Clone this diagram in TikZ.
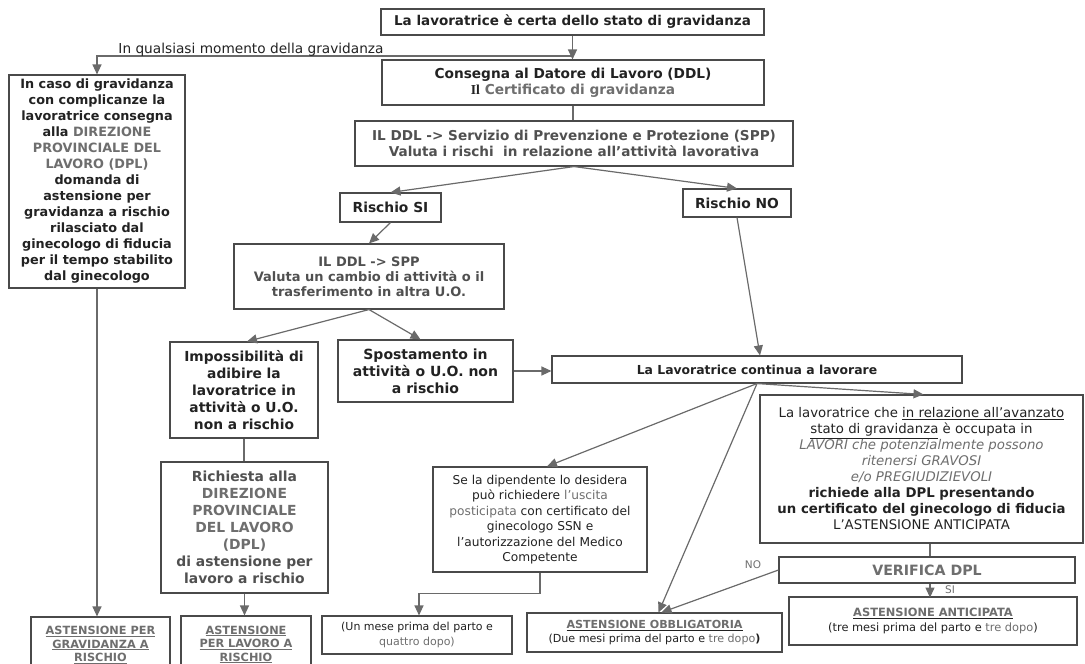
\documentclass[tikz,border=0pt]{standalone}
\usepackage{fontspec}
\setmainfont{DejaVu Sans}
\newfontfamily\serifb{Liberation Serif}
\usetikzlibrary{arrows.meta,calc}
\definecolor{txt}{HTML}{222222}
\definecolor{gt}{HTML}{6E6E6E}
\definecolor{mt}{HTML}{505050}
\definecolor{ln}{HTML}{6A6A6A}
\definecolor{bd}{HTML}{4A4A4A}
\newcommand{\fs}[2]{\fontsize{#1}{#2}\selectfont}
\newcommand{\gy}[1]{\textcolor{gt}{#1}}
\begin{document}
\begin{tikzpicture}[x=1pt,y=-1pt,
  box/.style={draw=bd, line width=1.1pt, fill=white, align=center, inner sep=0pt, text=txt},
  conn/.style={draw=ln, line width=1.2pt},
  arr/.style={conn, -{Triangle[length=10pt,width=9pt]}},
  lbl/.style={inner sep=0pt, text=txt}
]
\useasboundingbox (0,0) rectangle (1085,664);
\clip (0,0) rectangle (1085,664);

% boxes
\node[box, minimum width=383pt, minimum height=26pt, font=\fs{13.5}{16}\bfseries] (top) at (572.5,22)
  {La lavoratrice è certa dello stato di gravidanza};
\node[box, minimum width=382pt, minimum height=45pt, font=\fs{13.7}{16}\bfseries] (cons) at (573,82.5)
  {Consegna al Datore di Lavoro (DDL)\\ {\serifb Il} \gy{Certificato di gravidanza}};
\node[box, minimum width=438pt, minimum height=45pt, font=\fs{13.6}{15.5}\bfseries, text=mt] (val) at (574,143.5)
  {IL DDL -> Servizio di Prevenzione e Protezione (SPP)\\ Valuta i rischi~ in relazione all’attività lavorativa};
\node[box, minimum width=176pt, minimum height=213pt, font=\fs{12.8}{16}\bfseries] (left) at (97,181.5)
  {In caso di gravidanza\\ con complicanze la\\ lavoratrice consegna\\ alla \gy{DIREZIONE}\\ \gy{PROVINCIALE DEL}\\ \gy{LAVORO (DPL)}\\ domanda di\\ astensione per\\ gravidanza a rischio\\ rilasciato dal\\ ginecologo di fiducia\\ per il tempo stabilito\\ dal ginecologo};
\node[box, minimum width=101pt, minimum height=29pt, font=\fs{13.8}{15}\bfseries] (si) at (390.5,207.5) {Rischio SI};
\node[box, minimum width=108pt, minimum height=28pt, font=\fs{13.8}{15}\bfseries] (no) at (737,203) {Rischio NO};
\node[box, minimum width=270pt, minimum height=65pt, font=\fs{13}{15}\bfseries, text=mt] (spp) at (369,276.5)
  {IL DDL -> SPP\\ Valuta un cambio di attività o il\\ trasferimento in altra U.O.};
\node[box, minimum width=148pt, minimum height=96pt, font=\fs{13.8}{17}\bfseries] (imp) at (244,390)
  {Impossibilità di\\ adibire la\\ lavoratrice in\\ attività o U.O.\\ non a rischio};
\node[box, minimum width=175pt, minimum height=62pt, font=\fs{14}{17}\bfseries] (spo) at (425.5,371)
  {Spostamento in\\ attività o U.O. non\\ a rischio};
\node[box, minimum width=410pt, minimum height=27pt, font=\fs{12.4}{14}\bfseries] (cont) at (757,369.5)
  {La Lavoratrice continua a lavorare};
\node[box, minimum width=167pt, minimum height=131pt, font=\fs{13.9}{17}\bfseries, text=mt] (rich) at (244.5,527.5)
  {Richiesta alla\\ \gy{DIREZIONE}\\ \gy{PROVINCIALE}\\ \gy{DEL LAVORO}\\ \gy{(DPL)}\\ di astensione per\\ lavoro a rischio};
\node[box, minimum width=323pt, minimum height=148pt, font=\fs{13.3}{16}] (lav) at (921.5,469)
  {La lavoratrice che \underline{in relazione all’avanzato}\\ \underline{stato di gravidanza} è occupata in\\ \gy{\itshape LAVORI che potenzialmente possono}\\ \gy{\itshape ritenersi GRAVOSI}\\ \gy{\itshape e/o PREGIUDIZIEVOLI}\\ \textbf{richiede alla DPL presentando}\\ \textbf{un certificato del ginecologo di fiducia}\\ L’ASTENSIONE ANTICIPATA};
\node[box, minimum width=214pt, minimum height=105pt, font=\fs{12.2}{15.5}] (dip) at (540,519.5)
  {Se la dipendente lo desidera\\ può richiedere \gy{l’uscita}\\ \gy{posticipata} con certificato del\\ ginecologo SSN e\\ l’autorizzazione del Medico\\ Competente};
\node[box, minimum width=296pt, minimum height=26pt, font=\fs{14.2}{16}\bfseries, text=gt] (ver) at (927,570) {VERIFICA DPL};
\node[box, minimum width=139pt, minimum height=56pt, font=\fs{11.3}{13.5}\bfseries, text=gt] (a1) at (100.5,645)
  {\underline{ASTENSIONE PER}\\ \underline{GRAVIDANZA A}\\ \underline{RISCHIO}};
\node[box, minimum width=130pt, minimum height=57pt, font=\fs{11.3}{13.5}\bfseries, text=gt] (a2) at (246,644.5)
  {\underline{ASTENSIONE}\\ \underline{PER LAVORO A}\\ \underline{RISCHIO}};
\node[box, minimum width=190pt, minimum height=38pt, font=\fs{11}{14.5}] (un) at (417,635)
  {(Un mese prima del parto e\\ \gy{quattro dopo)}};
\node[box, minimum width=255pt, minimum height=39pt, font=\fs{11.1}{13.5}] (obb) at (654.5,632.5)
  {\underline{\textbf{\gy{ASTENSIONE OBBLIGATORIA}}}\\ (Due mesi prima del parto e \gy{tre dopo}\textbf{)}};
\node[box, minimum width=288pt, minimum height=48pt, font=\fs{11.4}{15}] (ant) at (933,621)
  {\underline{\textbf{\gy{ASTENSIONE ANTICIPATA}}}\\ (tre mesi prima del parto e \gy{tre dopo})};

% connectors
\draw[arr] (top.south) -- (top.south |- cons.north);
\coordinate (j) at (572.5,56);
\draw[arr] (j) -| (left.north);
\node[lbl, font=\fs{13.7}{15}, anchor=base] (qual) at (251,53) {In qualsiasi momento della gravidanza};
\draw[conn] (cons.south) -- (cons.south |- val.north);
\draw[arr] (val.south) -- (si.north);
\draw[arr] (val.south) -- (no.north);
\draw[arr] (si.south) -- (spp.north);
\draw[arr] (spp.south) -- ($(spo.north)+(-5,0)$);
\draw[arr] (spp.south) -- ($(imp.north)+(3,0)$);
\draw[arr] (spo.east) -- (spo.east -| cont.west);
\draw[arr] (no.south) -- ($(cont.north)+(3,0)$);
\draw[conn] (imp.south) -- (imp.south |- rich.north);
\draw[arr] (rich.south) -- (rich.south |- a2.north);
\draw[arr] (left.south) -- (left.south |- a1.north);
\draw[arr] (cont.south) -- ($(dip.north)+(7,0)$);
\draw[arr] (cont.south) -- ($(obb.north)+(4,0)$);
\draw[arr] (cont.south) -- ($(lav.north)+(2,0)$);
\draw[conn] ($(lav.south)+(8.5,0)$) -- (ver.north -| {$(lav.south)+(8.5,0)$});
\draw[arr] ($(ver.south)+(3,0)$) -- ($(ver.south)+(3,14)$);
\node[lbl, font=\fs{10.5}{12}, text=gt] (silbl) at (950,590) {SI};
\draw[arr] (ver.west) -- ($(obb.north)+(7,0)$);
\node[lbl, font=\fs{10.5}{12}, text=gt] (nolbl) at (753,565) {NO};
\draw[arr] (dip.south) -- ++(0,21) -| ($(un.north)+(2,0)$);
\end{tikzpicture}
\end{document}
